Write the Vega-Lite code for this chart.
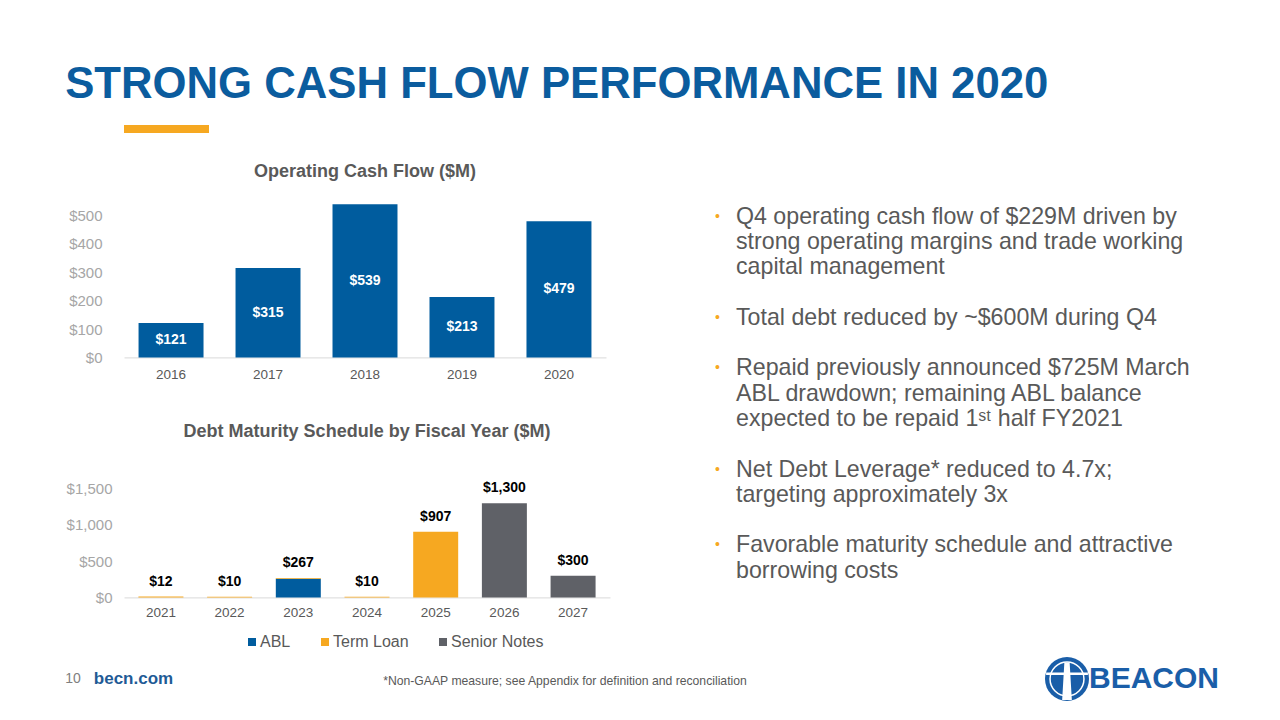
{
  "$schema": "https://vega.github.io/schema/vega-lite/v6.json",
  "background": "white",
  "padding": {"left": 65, "top": 63, "right": 10, "bottom": 10},
  "title": {"text": "STRONG CASH FLOW PERFORMANCE IN 2020", "anchor": "start", "fontSize": 43.7, "fontWeight": "bold", "color": "#0B5C9E", "font": "Liberation Sans", "offset": 18},
  "config": {"view": {"stroke": null}, "font": "Liberation Sans"},
  "spacing": 7,
  "resolve": {"legend": {"color": "independent"}},
  "vconcat": [
    {
      "spacing": 29,
      "resolve": {"legend": {"color": "independent"}},
      "vconcat": [
        {
          "width": 143, "height": 8,
          "data": {"values": [{"decoration": "accent"}]},
          "mark": {"type": "rect", "color": "#F6A821", "xOffset": -58, "x2Offset": -58},
          "encoding": {}
        },
        {
          "spacing": 20,
          "resolve": {"legend": {"color": "independent"}},
          "hconcat": [
            {
              "spacing": 42,
              "resolve": {"legend": {"color": "independent"}},
              "vconcat": [
                {
                  "width": 482, "height": 170.4,
                  "title": {"text": "Operating Cash Flow ($M)", "fontSize": 18, "fontWeight": "bold", "color": "#595959", "anchor": "middle", "offset": 6.5, "font": "Liberation Sans"},
                  "data": {"values": [
                    {"year": "2016", "cash_flow": 121},
                    {"year": "2017", "cash_flow": 315},
                    {"year": "2018", "cash_flow": 539},
                    {"year": "2019", "cash_flow": 213},
                    {"year": "2020", "cash_flow": 479}
                  ]},
                  "encoding": {"x": {"field": "year", "type": "ordinal", "scale": {"paddingInner": 0.33, "paddingOuter": 0.15}, "axis": {"title": null, "labelAngle": 0, "ticks": false, "domainColor": "#D9D9D9", "labelColor": "#595959", "labelFontSize": 13.5, "labelPadding": 10, "labelFont": "Liberation Sans"}}},
                  "layer": [
                    {"mark": {"type": "bar", "color": "#005C9E"}, "encoding": {"y": {"field": "cash_flow", "type": "quantitative", "scale": {"domain": [0, 600]}, "axis": {"title": null, "values": [0, 100, 200, 300, 400, 500], "format": "$,.0f", "grid": false, "domain": false, "ticks": false, "labelColor": "#A6A6A6", "labelFontSize": 15, "labelPadding": 22, "labelFont": "Liberation Sans"}}}},
                    {"mark": {"type": "text", "color": "white", "fontWeight": "bold", "fontSize": 14, "font": "Liberation Sans Narrow, Liberation Sans"}, "encoding": {"y": {"field": "cash_flow", "type": "quantitative", "scale": {"domain": [0, 1200]}, "axis": null}, "text": {"field": "cash_flow", "type": "quantitative", "format": "$,.0f"}}}
                  ],
                  "resolve": {"scale": {"y": "independent"}}
                },
                {
                  "width": 486, "height": 130.4,
                  "title": {"text": "Debt Maturity Schedule by Fiscal Year ($M)", "fontSize": 18, "fontWeight": "bold", "color": "#595959", "anchor": "middle", "offset": 26, "font": "Liberation Sans"},
                  "encoding": {"x": {"field": "year", "type": "ordinal", "scale": {"paddingInner": 0.345, "paddingOuter": 0.21}, "axis": {"title": null, "labelAngle": 0, "ticks": false, "domainColor": "#D9D9D9", "labelColor": "#595959", "labelFontSize": 13.5, "labelPadding": 8, "labelFont": "Liberation Sans"}}},
                  "layer": [
                    {
                      "data": {"values": [
                        {"year": "2021", "debt_type": "Term Loan", "amount": 12},
                        {"year": "2022", "debt_type": "Term Loan", "amount": 10},
                        {"year": "2023", "debt_type": "ABL", "amount": 257},
                        {"year": "2023", "debt_type": "Term Loan", "amount": 10},
                        {"year": "2024", "debt_type": "Term Loan", "amount": 10},
                        {"year": "2025", "debt_type": "Term Loan", "amount": 907},
                        {"year": "2026", "debt_type": "Senior Notes", "amount": 1300},
                        {"year": "2027", "debt_type": "Senior Notes", "amount": 300}
                      ]},
                      "mark": {"type": "bar"},
                      "encoding": {
                        "y": {"field": "amount", "type": "quantitative", "stack": "zero", "scale": {"domain": [0, 1700]}, "axis": {"title": null, "values": [0, 500, 1000, 1500], "format": "$,.0f", "grid": false, "domain": false, "ticks": false, "labelColor": "#A6A6A6", "labelFontSize": 15, "labelPadding": 12, "labelFont": "Liberation Sans"}},
                        "color": {"field": "debt_type", "type": "nominal", "scale": {"domain": ["ABL", "Term Loan", "Senior Notes"], "range": ["#005C9E", "#F6A821", "#5F6167"]},
                          "legend": {"orient": "none", "legendX": 120, "legendY": 167, "direction": "horizontal", "title": null, "symbolType": "square", "symbolSize": 64, "symbolStrokeWidth": 0, "labelFontSize": 16, "labelColor": "#595959", "columnPadding": 26, "labelOffset": 0, "labelFont": "Liberation Sans"}},
                        "order": {"field": "debt_type", "sort": "ascending"}
                      }
                    },
                    {
                      "data": {"values": [
                        {"year": "2021", "total": 12},
                        {"year": "2022", "total": 10},
                        {"year": "2023", "total": 267},
                        {"year": "2024", "total": 10},
                        {"year": "2025", "total": 907},
                        {"year": "2026", "total": 1300},
                        {"year": "2027", "total": 300}
                      ]},
                      "mark": {"type": "text", "color": "black", "fontWeight": "bold", "fontSize": 14, "baseline": "bottom", "dy": -8, "font": "Liberation Sans Narrow, Liberation Sans"},
                      "encoding": {
                        "y": {"field": "total", "type": "quantitative"},
                        "text": {"field": "total", "type": "quantitative", "format": "$,.0f"}
                      }
                    }
                  ]
                }
              ]
            },
            {
              "width": 212, "height": 430,
              "data": {"values": [
                {"row": 0, "bullet": "•", "line": "Q4 operating cash flow of $229M driven by"},
                {"row": 1, "bullet": "", "line": "strong operating margins and trade working"},
                {"row": 2, "bullet": "", "line": "capital management"},
                {"row": 4, "bullet": "•", "line": "Total debt reduced by ~$600M during Q4"},
                {"row": 6, "bullet": "•", "line": "Repaid previously announced $725M March"},
                {"row": 7, "bullet": "", "line": "ABL drawdown; remaining ABL balance"},
                {"row": 8, "bullet": "", "line": "expected to be repaid 1ˢᵗ half FY2021"},
                {"row": 10, "bullet": "•", "line": "Net Debt Leverage* reduced to 4.7x;"},
                {"row": 11, "bullet": "", "line": "targeting approximately 3x"},
                {"row": 13, "bullet": "•", "line": "Favorable maturity schedule and attractive"},
                {"row": 14, "bullet": "", "line": "borrowing costs"}
              ]},
              "encoding": {"y": {"field": "row", "type": "quantitative", "scale": {"domain": [-1.17, 15.83], "reverse": true}, "axis": null}},
              "layer": [
                {"mark": {"type": "text", "align": "left", "baseline": "middle", "fontSize": 23.2, "color": "#595959", "font": "Liberation Sans"}, "encoding": {"text": {"field": "line"}}},
                {"mark": {"type": "text", "align": "left", "baseline": "middle", "dx": -21, "fontSize": 14, "color": "#F6A821", "font": "Liberation Sans"}, "encoding": {"text": {"field": "bullet"}}}
              ]
            }
          ]
        }
      ]
    },
    {
      "spacing": 0,
      "bounds": "flush",
      "hconcat": [
        {"width": 19, "height": 44,
          "layer": [
            {"data": {"values": [{"label": "becn.com"}]}, "mark": {"type": "text", "align": "center", "baseline": "middle", "fontSize": 17, "fontWeight": "bold", "color": "#1F5B96"}, "encoding": {"text": {"field": "label"}}},
            {"data": {"values": [{"label": "10"}]}, "mark": {"type": "text", "align": "center", "baseline": "middle", "dx": -60.5, "fontSize": 14, "color": "#7F7F7F"}, "encoding": {"text": {"field": "label"}}}
          ]
        },
        {"width": 844, "height": 44, "data": {"values": [{"label": "*Non-GAAP  measure; see Appendix for definition and reconciliation"}]}, "mark": {"type": "text", "align": "center", "baseline": "middle", "dy": 2, "fontSize": 12.2, "color": "#595959", "font": "Liberation Sans Narrow, Liberation Sans"}, "encoding": {"text": {"field": "label"}}},
        {"width": 160, "height": 44, "data": {"values": [{"brand": "Beacon"}]},
          "layer": [
            {"mark": {"type": "point", "shape": "circle", "filled": true, "size": 1936, "color": "#1A5EA8", "opacity": 1}, "encoding": {}},
            {"mark": {"type": "point", "shape": "circle", "filled": false, "size": 1150, "color": "white", "strokeWidth": 1.5, "opacity": 1}, "encoding": {}},
            {"mark": {"type": "point", "shape": "M -0.12 -0.75 L 0.12 -0.75 L 0.22 0.95 L -0.22 0.95 Z M -0.95 -0.3 L 0.95 -0.3 L 0.95 -0.18 L -0.95 -0.18 Z", "filled": true, "size": 1936, "color": "white", "opacity": 1}, "encoding": {}}
          ]
        },
        {"width": 144, "height": 44, "data": {"values": [{"label": "BEACON"}]}, "mark": {"type": "text", "align": "right", "baseline": "middle", "fontSize": 30, "fontWeight": "bold", "color": "#1A5EA8"}, "encoding": {"text": {"field": "label"}}}
      ]
    }
  ]
}
